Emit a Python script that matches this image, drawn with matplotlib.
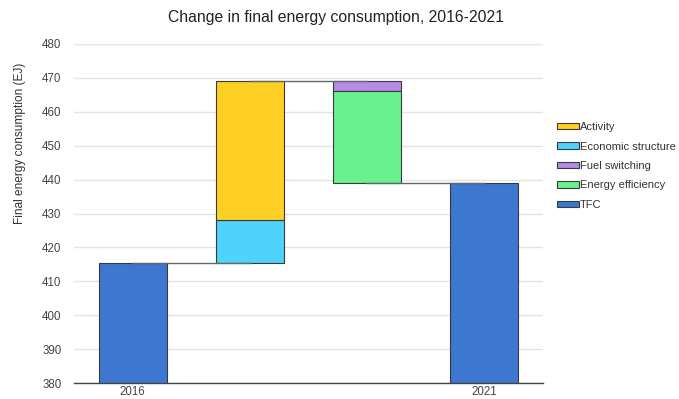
import matplotlib
matplotlib.use("Agg")
import matplotlib.pyplot as plt
import numpy as np
from matplotlib.patches import Patch

plt.rcParams['font.family'] = ['Liberation Sans', 'DejaVu Sans']

# Data
categories = ["2016", "", "", "2021"]
tfc_start = 415.5
economic_structure = 12.6
activity = 41.0
fuel_switching = -3.0
energy_efficiency = -27.1
tfc_end = 439.0
yticks = [380, 390, 400, 410, 420, 430, 440, 450, 460, 470, 480]

colors = {
    "Activity": "#fdd023",
    "Economic structure": "#4dd3fc",
    "Fuel switching": "#b38ce8",
    "Energy efficiency": "#69f18f",
    "TFC": "#3d77d0",
}

fig = plt.figure(figsize=(6.79, 3.99), dpi=100)
ax = fig.add_axes([74/679, 1-383/399, (543-74)/679, (383-44)/399])

x = np.arange(len(categories))
w = 0.58
edge = dict(edgecolor="#3a3a3a", linewidth=0.8)

# TFC bars
ax.bar(x[0], tfc_start, width=w, color=colors["TFC"], zorder=3, **edge)
ax.bar(x[3], tfc_end, width=w, color=colors["TFC"], zorder=3, **edge)

# Increases (bar 2)
b2 = tfc_start
ax.bar(x[1], economic_structure, bottom=b2, width=w, color=colors["Economic structure"], zorder=3, **edge)
ax.bar(x[1], activity, bottom=b2 + economic_structure, width=w, color=colors["Activity"], zorder=3, **edge)
peak = b2 + economic_structure + activity

# Decreases (bar 3)
ax.bar(x[2], -fuel_switching, bottom=peak + fuel_switching, width=w, color=colors["Fuel switching"], zorder=3, **edge)
ax.bar(x[2], -energy_efficiency, bottom=peak + fuel_switching + energy_efficiency, width=w,
       color=colors["Energy efficiency"], zorder=3, **edge)

# Connectors
conn = dict(color="#666666", linewidth=1.0, zorder=4)
ax.plot([x[0], x[1]], [tfc_start, tfc_start], **conn)
ax.plot([x[1], x[2]], [peak, peak], **conn)
ax.plot([x[2], x[3]], [tfc_end, tfc_end], **conn)

ax.set_xlim(-0.5, 3.5)
ax.set_ylim(380, 480)
ax.set_yticks(yticks)
ax.set_xticks(x)
ax.set_xticklabels(categories)
ax.grid(axis="y", color="#e3e3e3", linewidth=1.0, zorder=0)
ax.set_axisbelow(True)
for s in ["top", "right", "left"]:
    ax.spines[s].set_visible(False)
ax.spines["bottom"].set_color("#444444")
ax.spines["bottom"].set_linewidth(1.0)
ax.spines["bottom"].set_zorder(5)
ax.tick_params(axis="both", length=0, labelsize=8.3, colors="#444444")
ax.tick_params(axis="y", pad=9)
ax.tick_params(axis="x", pad=2.5)

ax.set_ylabel("Final energy consumption (EJ)", fontsize=8.6, color="#333333")
ax.yaxis.set_label_coords(-0.103, 0.708)

fig.text(0.495, 0.955, "Change in final energy consumption, 2016-2021", ha="center", va="center",
         fontsize=11.3, color="#222222")

order = ["Activity", "Economic structure", "Fuel switching", "Energy efficiency", "TFC"]
handles = [Patch(facecolor=colors[k], edgecolor="#3a3a3a", linewidth=0.8) for k in order]
leg = fig.legend(handles, order, loc="center left", bbox_to_anchor=(0.821, 0.584),
                 frameon=False, fontsize=8, handlelength=1.9, handleheight=0.5,
                 handletextpad=0.15, labelspacing=0.85, borderaxespad=0, borderpad=0)
for t in leg.get_texts():
    t.set_color("#333333")

fig.savefig("out.png", dpi=100)
